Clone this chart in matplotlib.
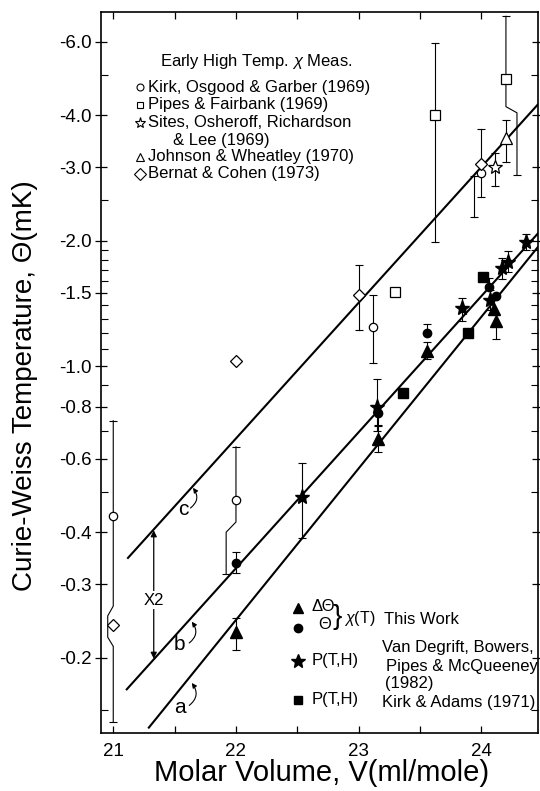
import numpy as np
import matplotlib.pyplot as plt
from matplotlib.ticker import FixedLocator, FixedFormatter, NullFormatter

plt.rcParams['font.family'] = ['Liberation Sans', 'DejaVu Sans']
plt.rcParams['mathtext.fontset'] = 'custom'
plt.rcParams['mathtext.rm'] = 'Liberation Sans'
plt.rcParams['mathtext.it'] = 'Liberation Sans:italic'

nan = np.nan

# --- early high temperature chi measurements (open symbols), |Theta| in mK ---
# Kirk, Osgood & Garber (1969)
kog_v = [21.0, 22.0, 23.12, 24.0]
kog_t = [0.438, 0.479, 1.24, 2.90]
kog_lo = [nan, nan, 1.02, nan]
kog_hi = [nan, nan, 1.48, nan]

# Pipes & Fairbank (1969)
pf_v = [23.30, 23.62, 24.2]
pf_t = [1.51, 4.00, 4.89]
pf_lo = [nan, 1.98, nan]
pf_hi = [nan, 5.97, nan]

# Sites, Osheroff, Richardson & Lee (1969)
sor_v = [24.11]
sor_t = [3.00]
sor_lo = [2.71]
sor_hi = [3.25]

# Johnson & Wheatley (1970)
jw_v = [24.2]
jw_t = [3.53]
jw_lo = [3.09]
jw_hi = [3.90]

# Bernat & Cohen (1973)
bc_v = [21.0, 22.0, 23.0, 24.0]
bc_t = [0.24, 1.03, 1.48, 3.05]
bc_lo = [nan, nan, 1.22, 2.54]
bc_hi = [nan, nan, 1.75, 3.70]

# error bars bent sideways around a neighbouring symbol: (V, |Theta|) vertices
bent_v = [
    [21.0, 21.0, 20.955, 20.955, 21.0, 21.0],
    [22.0, 22.0, 21.92, 21.92],
    [24.2, 24.2, 24.29, 24.29],
    [23.94, 23.94],
]
bent_t = [
    [0.74, 0.266, 0.252, 0.224, 0.213, 0.14],
    [0.641, 0.423, 0.40, 0.318],
    [6.9, 4.19, 4.05, 2.88],
    [2.85, 2.28],
]

# --- this work and P(T,H) data (filled symbols) ---
# delta Theta, chi(T)
tri_v = [22.0, 23.16, 23.56, 24.10, 24.12]
tri_t = [0.230, 0.67, 1.09, 1.37, 1.28]
tri_lo = [0.209, 0.624, 1.04, nan, 1.16]
tri_hi = [0.249, 0.724, 1.14, 1.44, nan]

# Theta, chi(T)
dot_v = [22.0, 23.16, 23.56, 24.06, 24.12]
dot_t = [0.338, 0.773, 1.20, 1.55, 1.47]
dot_lo = [0.320, 0.72, nan, nan, nan]
dot_hi = [0.359, nan, 1.26, 1.63, nan]

# Van Degrift, Bowers, Pipes & McQueeney (1982)
vd_v = [22.54, 23.15, 23.84, 24.07, 24.17, 24.22, 24.36]
vd_t = [0.487, 0.80, 1.38, 1.44, 1.72, 1.78, 1.99]
vd_lo = [0.388, 0.70, 1.28, 1.36, 1.62, 1.68, 1.90]
vd_hi = [0.586, 0.93, 1.46, 1.52, 1.82, 1.89, 2.07]

# Kirk & Adams (1971)
ka_v = [23.36, 23.89, 24.01]
ka_t = [0.863, 1.20, 1.64]

# fitted lines a, b, c (end points)
line_v = {'a': [21.29, 24.46], 'b': [21.11, 24.46], 'c': [21.12, 24.46]}
line_t = {'a': [0.136, 1.93], 'b': [0.168, 2.08], 'c': [0.347, 4.24]}

y_major = [0.2, 0.3, 0.4, 0.6, 0.8, 1.0, 1.5, 2.0, 3.0, 4.0, 6.0]
y_labels = ['-0.2', '-0.3', '-0.4', '-0.6', '-0.8', '-1.0', '-1.5',
            '-2.0', '-3.0', '-4.0', '-6.0']
y_minor = [0.15, 0.5, 0.7, 0.9, 1.1, 1.2, 1.3, 1.4, 1.6, 1.7, 1.8, 1.9,
           2.5, 5.0]
x_major = [21, 22, 23, 24]
x_minor = [21.5, 22.5, 23.5]

LEG_FS = 12


def draw_bars(ax, v, t, lo, hi):
    for x, y, a, b in zip(v, t, lo, hi):
        for end in (a, b):
            if np.isfinite(end):
                ax.plot([x, x], [y, end], color='k', lw=0.8, zorder=2)
                ax.plot([x], [end], marker='_', ms=6, mew=0.8, color='k',
                        zorder=2)


fig = plt.figure(figsize=(5.4, 7.91), dpi=100)
ax = fig.add_axes([0.187, 0.0733, 0.809, 0.912])
ax.set_yscale('log')
ax.set_xlim(20.9, 24.46)
ax.set_ylim(0.132, 7.08)

for key in ('a', 'b', 'c'):
    ax.plot(line_v[key], line_t[key], color='k', lw=1.5, zorder=1)

for bv, bt in zip(bent_v, bent_t):
    ax.plot(bv, bt, color='k', lw=0.8, zorder=2)
    ax.plot([bv[0], bv[-1]], [bt[0], bt[-1]], ls='none', marker='_', ms=6,
            mew=0.8, color='k', zorder=2)

open_sets = [
    (kog_v, kog_t, kog_lo, kog_hi, 'o', 6),
    (pf_v, pf_t, pf_lo, pf_hi, 's', 6.5),
    (sor_v, sor_t, sor_lo, sor_hi, '*', 10),
    (jw_v, jw_t, jw_lo, jw_hi, '^', 8),
    (bc_v, bc_t, bc_lo, bc_hi, 'D', 6.5),
]
for v, t, lo, hi, m, ms in open_sets:
    draw_bars(ax, v, t, lo, hi)
    ax.plot(v, t, ls='none', marker=m, ms=ms, mfc='white', mec='k', mew=0.9,
            zorder=3)

filled_sets = [
    (tri_v, tri_t, tri_lo, tri_hi, '^', 8),
    (dot_v, dot_t, dot_lo, dot_hi, 'o', 6),
    (vd_v, vd_t, vd_lo, vd_hi, '*', 11),
]
for v, t, lo, hi, m, ms in filled_sets:
    draw_bars(ax, v, t, lo, hi)
    ax.plot(v, t, ls='none', marker=m, ms=ms, color='k', zorder=3)
ax.plot(ka_v, ka_t, ls='none', marker='s', ms=7, color='k', zorder=3)

# line labels with curved arrows
arrow = dict(arrowstyle='-|>', lw=0.8, color='k', mutation_scale=7,
             shrinkA=1, shrinkB=0, connectionstyle='arc3,rad=0.5')
ax.annotate('', xy=(21.65, 0.511), xytext=(21.62, 0.455), arrowprops=arrow)
ax.text(21.57, 0.453, 'c', fontsize=15, ha='center', va='center')
ax.annotate('', xy=(21.64, 0.244), xytext=(21.61, 0.216), arrowprops=arrow)
ax.text(21.54, 0.215, 'b', fontsize=15, ha='center', va='center')
ax.annotate('', xy=(21.64, 0.174), xytext=(21.61, 0.153), arrowprops=arrow)
ax.text(21.54, 0.152, 'a', fontsize=15, ha='center', va='center')

# factor of two between lines b and c
ax.annotate('', xy=(21.33, 0.404), xytext=(21.33, 0.199),
            arrowprops=dict(arrowstyle='<|-|>', lw=0.9, color='k',
                            mutation_scale=9, shrinkA=0, shrinkB=0))
ax.text(21.33, 0.275, 'X2', fontsize=12, ha='center', va='center',
        bbox=dict(facecolor='white', edgecolor='none', pad=1))

# legend of early measurements (top left)
tr = ax.transAxes
ax.text(0.135, 0.931, r'Early High Temp. $\mathit{χ}$ Meas.', transform=tr,
        fontsize=LEG_FS, va='center')
leg_rows = [(0.895, 'o', 5, 'Kirk, Osgood & Garber (1969)'),
            (0.871, 's', 5, 'Pipes & Fairbank (1969)'),
            (0.846, '*', 8, 'Sites, Osheroff, Richardson'),
            (0.799, '^', 6, 'Johnson & Wheatley (1970)'),
            (0.775, 'D', 6, 'Bernat & Cohen (1973)')]
for yy, m, ms, label in leg_rows:
    ax.plot([0.089], [yy], transform=tr, marker=m, ms=ms, mfc='white',
            mec='k', mew=0.8, clip_on=False)
    ax.text(0.108, yy, label, transform=tr, fontsize=LEG_FS, va='center')
ax.text(0.165, 0.822, '& Lee (1969)', transform=tr, fontsize=LEG_FS,
        va='center')

# legend of filled symbols (bottom right)
ax.plot([0.451], [0.173], transform=tr, marker='^', ms=7, color='k')
ax.plot([0.451], [0.146], transform=tr, marker='o', ms=6, color='k')
ax.plot([0.451], [0.100], transform=tr, marker='*', ms=10, color='k')
ax.plot([0.451], [0.046], transform=tr, marker='s', ms=6, color='k')
ax.text(0.508, 0.176, 'ΔΘ', transform=tr, fontsize=LEG_FS, ha='center',
        va='center')
ax.text(0.513, 0.150, 'Θ', transform=tr, fontsize=LEG_FS, ha='center',
        va='center')
ax.text(0.541, 0.161, '}', transform=tr, fontsize=20, ha='center',
        va='center')
ax.text(0.556, 0.159, r'$\mathit{χ}$(T)', transform=tr, fontsize=11.5,
        va='center')
ax.text(0.648, 0.157, 'This Work', transform=tr, fontsize=LEG_FS,
        va='center')
ax.text(0.483, 0.100, 'P(T,H)', transform=tr, fontsize=LEG_FS, va='center')
ax.text(0.643, 0.119, 'Van Degrift, Bowers,', transform=tr, fontsize=LEG_FS,
        va='center')
ax.text(0.652, 0.092, 'Pipes & McQueeney', transform=tr, fontsize=LEG_FS,
        va='center')
ax.text(0.650, 0.069, '(1982)', transform=tr, fontsize=LEG_FS, va='center')
ax.text(0.483, 0.046, 'P(T,H)', transform=tr, fontsize=LEG_FS, va='center')
ax.text(0.643, 0.042, 'Kirk & Adams (1971)', transform=tr, fontsize=LEG_FS,
        va='center')

# axes, ticks, labels
ax.yaxis.set_major_locator(FixedLocator(y_major))
ax.yaxis.set_major_formatter(FixedFormatter(y_labels))
ax.yaxis.set_minor_locator(FixedLocator(y_minor))
ax.yaxis.set_minor_formatter(NullFormatter())
ax.xaxis.set_major_locator(FixedLocator(x_major))
ax.xaxis.set_minor_locator(FixedLocator(x_minor))

ax.tick_params(axis='x', which='both', direction='in', top=True, length=5,
               width=0.9, labelsize=13.5, pad=7)
ax.tick_params(axis='y', which='major', direction='inout', right=True,
               length=8, width=0.9, labelsize=13.5, pad=3)
ax.tick_params(axis='y', which='minor', direction='in', right=True,
               length=5, width=0.8)
for side in ('left', 'bottom', 'top', 'right'):
    ax.spines[side].set_linewidth(1.2)

ax.set_xlabel('Molar Volume, V(ml/mole)', fontsize=21)
ax.xaxis.set_label_coords(0.506, -0.036)
ax.set_ylabel('Curie-Weiss Temperature, Θ(mK)', fontsize=20)
ax.yaxis.set_label_coords(-0.145, 0.481)

fig.savefig('out.png', dpi=100)
